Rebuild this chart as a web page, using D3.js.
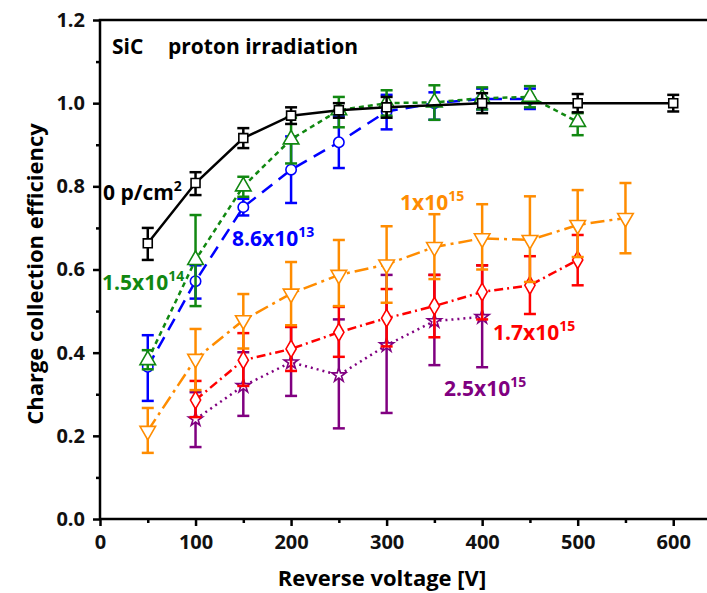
<!DOCTYPE html>
<html lang="en">
<head>
<meta charset="UTF-8">
<title>SiC proton irradiation</title>
<script src="https://cdn.jsdelivr.net/npm/d3@7"></script>
<style>
  body { margin: 0; background: #fff; }
  svg { font-family: "Open Sans", "Liberation Sans", sans-serif; font-weight: bold; }
</style>
</head>
<body>
<svg id="chart" width="707" height="593"></svg>
<script>
// reverse voltage [V] and charge collection efficiency, one set per fluence
const v0 = [50, 100, 150, 200, 250, 300, 400, 500, 600]
const y0 = [0.663, 0.808, 0.916, 0.97, 0.983, 0.99, 1.0, 1.0, 1.0]
const hi0 = [0.70, 0.834, 0.94, 0.99, 1.0, 1.015, 1.024, 1.022, 1.02]
const lo0 = [0.623, 0.779, 0.892, 0.95, 0.965, 0.965, 0.976, 0.978, 0.98]

const v86 = [50, 100, 150, 200, 250, 300, 350, 400, 450]
const y86 = [0.366, 0.572, 0.75, 0.84, 0.906, 0.98, 1.0, 1.01, 1.01]
const hi86 = [0.442, 0.61, 0.77, 0.92, 0.97, 1.02, 1.026, 1.035, 1.035]
const lo86 = [0.284, 0.53, 0.73, 0.76, 0.844, 0.937, 0.96, 0.985, 0.986]

const v15 = [50, 100, 150, 200, 250, 300, 350, 400, 450, 500]
const y15 = [0.382, 0.623, 0.80, 0.913, 0.983, 1.0, 1.002, 1.012, 1.015, 0.955]
const hi15 = [0.406, 0.731, 0.823, 0.965, 1.015, 1.031, 1.043, 1.038, 1.041, 0.976]
const lo15 = [0.36, 0.512, 0.775, 0.855, 0.942, 0.97, 0.96, 0.985, 0.99, 0.923]

const v1e15 = [50, 100, 150, 200, 250, 300, 350, 400, 450, 500, 550]
const y1e15 = [0.212, 0.385, 0.478, 0.542, 0.587, 0.612, 0.654, 0.675, 0.671, 0.707, 0.724]
const hi1e15 = [0.267, 0.457, 0.541, 0.618, 0.671, 0.704, 0.733, 0.757, 0.776, 0.791, 0.808]
const lo1e15 = [0.159, 0.31, 0.41, 0.466, 0.512, 0.52, 0.577, 0.6, 0.57, 0.63, 0.639]

const v17 = [100, 150, 200, 250, 300, 350, 400, 450, 500]
const y17 = [0.286, 0.382, 0.409, 0.449, 0.483, 0.512, 0.546, 0.562, 0.623]
const hi17 = [0.332, 0.447, 0.462, 0.51, 0.553, 0.587, 0.61, 0.632, 0.683]
const lo17 = [0.245, 0.32, 0.356, 0.39, 0.415, 0.437, 0.48, 0.493, 0.562]

const v25 = [100, 150, 200, 250, 300, 350, 400]
const y25 = [0.24, 0.32, 0.377, 0.346, 0.418, 0.476, 0.486]
const hi25 = [0.305, 0.401, 0.462, 0.48, 0.587, 0.587, 0.61]
const lo25 = [0.173, 0.248, 0.296, 0.218, 0.255, 0.37, 0.365]

const xTicks = [0, 100, 200, 300, 400, 500, 600]
const yTicks = [0.0, 0.2, 0.4, 0.6, 0.8, 1.0, 1.2]

// drawing order: back to front
const series = [
  { v: v25, y: y25, hi: hi25, lo: lo25, color: '#800080', dash: '2,4', sym: d3.symbolStar, size: 60 },
  { v: v17, y: y17, hi: hi17, lo: lo17, color: '#ff0000', dash: '9,4,2,4', sym: d3.symbolDiamond, size: 90 },
  { v: v1e15, y: y1e15, hi: hi1e15, lo: lo1e15, color: '#ff8c00', dash: '14,5,3,5', sym: 'down', size: 105 },
  { v: v86, y: y86, hi: hi86, lo: lo86, color: '#0000ff', dash: '13,8', sym: d3.symbolCircle, size: 85 },
  { v: v15, y: y15, hi: hi15, lo: lo15, color: '#118811', dash: '5,4', sym: d3.symbolTriangle, size: 105 },
  { v: v0, y: y0, hi: hi0, lo: lo0, color: '#000000', dash: null, sym: d3.symbolSquare, size: 80 }
]

const labels = [
  { text: '0 p/cm', sup: '2', x: 103, y: 200, color: '#000000' },
  { text: '1.5x10', sup: '14', x: 102, y: 290, color: '#118811' },
  { text: '8.6x10', sup: '13', x: 232, y: 246, color: '#0000ff' },
  { text: '1x10', sup: '15', x: 400, y: 210, color: '#ff8c00' },
  { text: '1.7x10', sup: '15', x: 493, y: 340, color: '#ff0000' },
  { text: '2.5x10', sup: '15', x: 444, y: 396, color: '#800080' }
]

const svg = d3.select('#chart')
const mLeft = 100, mRight = 721, mTop = 20, mBottom = 519

const x = d3.scaleLinear().domain([0, 650]).range([mLeft, mRight])
const y = d3.scaleLinear().domain([0, 1.2]).range([mBottom, mTop])

// frame
svg.append('rect')
  .attr('x', mLeft).attr('y', mTop)
  .attr('width', mRight - mLeft).attr('height', mBottom - mTop)
  .attr('fill', 'none').attr('stroke', '#000').attr('stroke-width', 2.5)

// axes
const xAxis = svg.append('g')
  .attr('transform', `translate(0,${mBottom})`)
  .call(d3.axisBottom(x).tickValues(xTicks).tickFormat(d3.format('d')).tickSize(7).tickPadding(9))
const xMinor = svg.append('g')
  .attr('transform', `translate(0,${mBottom})`)
  .call(d3.axisBottom(x).tickValues(d3.range(50, 650, 100)).tickFormat('').tickSize(4))

const yAxis = svg.append('g')
  .attr('transform', `translate(${mLeft},0)`)
  .call(d3.axisLeft(y).tickValues(yTicks).tickFormat(d3.format('.1f')).tickSize(7).tickPadding(8))
const yMinor = svg.append('g')
  .attr('transform', `translate(${mLeft},0)`)
  .call(d3.axisLeft(y).tickValues(d3.range(0.1, 1.2, 0.2)).tickFormat('').tickSize(4))

for (const g of [xAxis, xMinor, yAxis, yMinor]) {
  g.select('.domain').remove()
  g.selectAll('line').attr('stroke', '#000').attr('stroke-width', 2.5)
  g.selectAll('text').attr('font-size', 20).attr('font-weight', 'bold')
    .attr('font-family', '"Open Sans", sans-serif').attr('fill', '#111')
}

// axis titles
svg.append('text')
  .attr('x', 382).attr('y', 586)
  .attr('text-anchor', 'middle')
  .attr('font-size', 22)
  .text('Reverse voltage [V]')

svg.append('text')
  .attr('transform', 'translate(43,274) rotate(-90)')
  .attr('text-anchor', 'middle')
  .attr('font-size', 22)
  .text('Charge collection efficiency')

svg.append('text')
  .attr('x', 112).attr('y', 54)
  .attr('font-size', 21)
  .text('SiC')
svg.append('text')
  .attr('x', 168).attr('y', 54)
  .attr('font-size', 21)
  .text('proton irradiation')

// series
const line = d3.line().x(d => x(d[0])).y(d => y(d[1]))

series.forEach(s => {
  const pts = s.v.map((v, i) => [v, s.y[i], s.hi[i], s.lo[i]])
  const g = svg.append('g')

  g.append('path')
    .attr('d', line(pts))
    .attr('fill', 'none')
    .attr('stroke', s.color)
    .attr('stroke-width', 2.5)
    .attr('stroke-dasharray', s.dash)

  // error bars
  const eb = g.selectAll('g.err').data(pts).join('g').attr('class', 'err')
  eb.append('line')
    .attr('x1', d => x(d[0])).attr('x2', d => x(d[0]))
    .attr('y1', d => y(d[2])).attr('y2', d => y(d[3]))
  eb.append('line')
    .attr('x1', d => x(d[0]) - 6).attr('x2', d => x(d[0]) + 6)
    .attr('y1', d => y(d[2])).attr('y2', d => y(d[2]))
  eb.append('line')
    .attr('x1', d => x(d[0]) - 6).attr('x2', d => x(d[0]) + 6)
    .attr('y1', d => y(d[3])).attr('y2', d => y(d[3]))
  eb.selectAll('line').attr('stroke', s.color).attr('stroke-width', 2.5)

  // markers
  const isDown = s.sym === 'down'
  const sym = d3.symbol().type(isDown ? d3.symbolTriangle : s.sym).size(s.size)
  g.selectAll('path.mk').data(pts).join('path')
    .attr('class', 'mk')
    .attr('d', sym)
    .attr('transform', d => `translate(${x(d[0])},${y(d[1])})` + (isDown ? ' rotate(180)' : ''))
    .attr('fill', '#fff')
    .attr('stroke', s.color)
    .attr('stroke-width', 1.6)
})

// series labels
labels.forEach(l => {
  const t = svg.append('text')
    .attr('x', l.x).attr('y', l.y)
    .attr('font-size', 21)
    .attr('fill', l.color)
  t.append('tspan').text(l.text)
  t.append('tspan').attr('dy', -9).attr('font-size', 14).text(l.sup)
})
</script>
</body>
</html>
